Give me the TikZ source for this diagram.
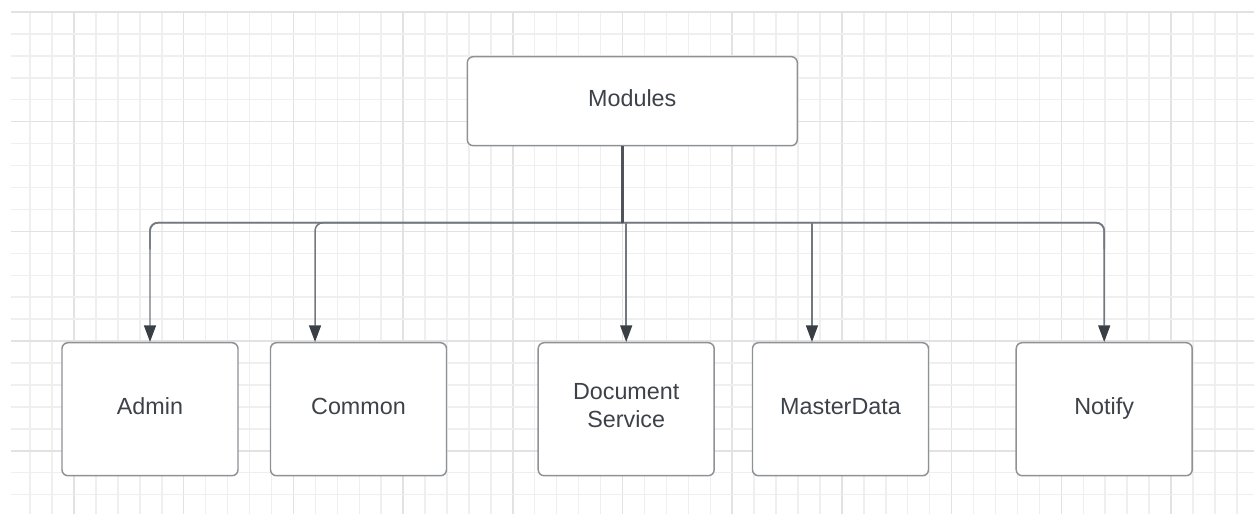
\documentclass[tikz,border=0pt]{standalone}
\usepackage{fontspec}
\setmainfont{Liberation Sans}
\usetikzlibrary{arrows.meta,calc}

\definecolor{gridminor}{HTML}{EFEFEF}
\definecolor{gridmajor}{HTML}{E2E2E2}
\definecolor{boxline}{HTML}{8E9196}
\definecolor{inkgray}{HTML}{3D424A}
\definecolor{wire}{HTML}{737880}
\definecolor{busgray}{HTML}{8A8E94}
\definecolor{tipfill}{HTML}{3A3F46}

\tikzset{
  lbl/.style={inner sep=0pt, align=center, text=inkgray,
    font=\fontsize{17.5}{21}\selectfont},
  modbox/.style={draw=boxline, line width=1.1pt, rounded corners=4.5pt, fill=white,
    inner sep=0pt},
  topbox/.style={modbox, minimum width=247.5pt, minimum height=66.75pt},
  childbox/.style={modbox, minimum width=132pt, minimum height=99.75pt},
  % single-line caption: capital letters centred a little above the box centre
  cap/.style={label={[lbl, text height=12.5pt, text depth=0pt, yshift=2.6pt]center:#1}},
  % two-line caption, block centred slightly above the box centre
  cap2/.style={label={[lbl, yshift=2.6pt]center:#1}},
  wireline/.style={draw=wire, line width=1.1pt,
    -{Triangle[length=12.5pt,width=9pt,color=tipfill]}},
  busline/.style={draw=busgray, line width=1.4pt},
  trunkline/.style={draw=wire!70!black, line width=2.2pt},
}

\begin{document}
\begin{tikzpicture}[x=0.75pt,y=-0.75pt]
  \useasboundingbox (0,0) rectangle (1254,515);
  \fill[white] (0,0) rectangle (1254,515);

  % background grid: minor lines every 21.94 px, a heavier line every fifth
  \foreach \k in {1,...,56}{
    \pgfmathsetmacro{\xx}{8.2+21.94*\k}
    \pgfmathtruncatemacro{\mm}{mod(\k+2,5)}
    \ifnum\mm=0
      \draw[gridmajor, line width=1.1pt] (\xx,12) -- (\xx,514);
    \else
      \draw[gridminor, line width=1.1pt] (\xx,12) -- (\xx,514);
    \fi
  }
  \foreach \k in {0,...,22}{
    \pgfmathsetmacro{\yy}{12+21.94*\k}
    \pgfmathtruncatemacro{\mm}{mod(\k,5)}
    \ifnum\mm=0
      \draw[gridmajor, line width=1.1pt] (11,\yy) -- (1254,\yy);
    \else
      \draw[gridminor, line width=1.1pt] (11,\yy) -- (1254,\yy);
    \fi
  }

  % boxes
  \node[topbox,   cap=Modules]          (mod)    at (632.3,101.2)  {};
  \node[childbox, cap=Admin]            (admin)  at (150,409.2)    {};
  \node[childbox, cap=Common]           (common) at (358.5,409.2)  {};
  \node[childbox, cap2={Document\\Service}] (docsvc) at (626.2,409.2) {};
  \node[childbox, cap=MasterData]       (master) at (840.5,409.2)  {};
  \node[childbox, cap=Notify]           (notify) at (1104.2,409.2) {};

  % connector anchors
  \coordinate (tap) at ([xshift=-7.7pt]mod.south);
  \coordinate (bus) at (0,222.7);
  \coordinate (commonin) at ([xshift=-32.6pt]common.north);
  \coordinate (masterin) at ([xshift=-21.4pt]master.north);

  % shared horizontal bus
  \draw[busline, rounded corners=6pt] (tap |- bus) -| ([yshift=-20pt]admin.north |- bus);
  \draw[busline, rounded corners=6pt] (tap |- bus) -| ([yshift=-20pt]notify.north |- bus);

  % connectors: sharp tee at the trunk, rounded bend above each box
  \draw[wireline] (tap) -- (tap |- bus) [rounded corners=6pt] -| (admin.north);
  \draw[wireline] (tap) -- (tap |- bus) [rounded corners=6pt] -| (commonin);
  \draw[wireline] (tap) -- (tap |- bus) [rounded corners=6pt] -| (notify.north);
  \draw[wireline] (docsvc.north |- bus) -- (docsvc.north);
  \draw[wireline] (masterin |- bus) -- (masterin);
  \draw[trunkline] (tap) -- (tap |- bus);
\end{tikzpicture}
\end{document}
